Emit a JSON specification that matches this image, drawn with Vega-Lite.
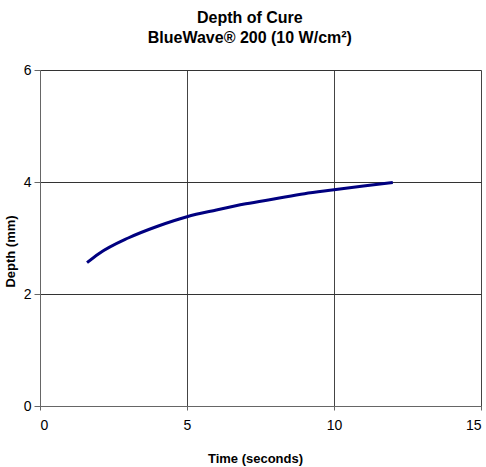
{
  "$schema": "https://vega.github.io/schema/vega-lite/v6.json",
  "autosize": {"type": "none"},
  "width": 441,
  "height": 336,
  "padding": {"left": 40, "top": 70, "right": 5, "bottom": 61},
  "background": "white",
  "title": {
    "text": ["Depth of Cure", "BlueWave® 200 (10 W/cm²)"],
    "font": "Liberation Sans, Arial",
    "fontSize": 16,
    "fontWeight": "bold",
    "lineHeight": 20,
    "color": "black",
    "anchor": "middle",
    "frame": "bounds",
    "dx": 7,
    "offset": 17
  },
  "data": {
    "values": [
      {"t": 1.6, "d": 2.56},
      {"t": 2, "d": 2.72},
      {"t": 3, "d": 3.0},
      {"t": 4, "d": 3.21},
      {"t": 5, "d": 3.38},
      {"t": 6, "d": 3.5},
      {"t": 7, "d": 3.61},
      {"t": 8, "d": 3.7},
      {"t": 9, "d": 3.79},
      {"t": 10, "d": 3.86},
      {"t": 11, "d": 3.93},
      {"t": 12, "d": 3.99}
    ]
  },
  "mark": {"type": "line", "color": "#000080", "strokeWidth": 3, "interpolate": "monotone"},
  "encoding": {
    "x": {
      "field": "t", "type": "quantitative",
      "scale": {"domain": [0, 15], "nice": false},
      "axis": {
        "title": "Time (seconds)", "values": [0, 5, 10, 15],
        "grid": true, "gridColor": "#444", "gridOpacity": 1,
        "domainColor": "#666", "tickColor": "#666", "tickSize": 4,
        "labelFont": "Liberation Sans, Arial", "labelFontSize": 14, "labelColor": "black", "labelPadding": 8,
        "titleFont": "Liberation Sans, Arial", "titleFontSize": 13, "titleFontWeight": "bold", "titleColor": "black", "titlePadding": 20,
        "titleX": 215
      }
    },
    "y": {
      "field": "d", "type": "quantitative",
      "scale": {"domain": [0, 6], "nice": false},
      "axis": {
        "title": "Depth (mm)", "values": [0, 2, 4, 6],
        "grid": true, "gridColor": "#333", "gridOpacity": 1,
        "domainColor": "#666", "tickColor": "#666", "tickSize": 6,
        "labelFont": "Liberation Sans, Arial", "labelFontSize": 14, "labelColor": "black", "labelPadding": 3,
        "titleFont": "Liberation Sans, Arial", "titleFontSize": 13, "titleFontWeight": "bold", "titleColor": "black", "titlePadding": 6,
        "titleY": 181
      }
    }
  },
  "config": {"view": {"stroke": null}}
}
